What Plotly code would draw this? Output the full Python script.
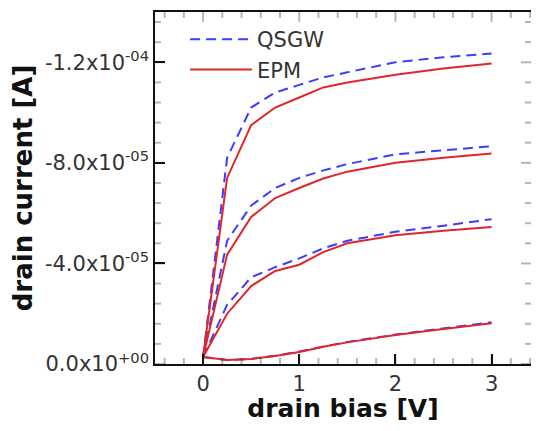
import plotly.graph_objects as go

# ---- data ----
drain_bias = [0, 0.25, 0.5, 0.75, 1.0, 1.25, 1.5, 2.0, 2.5, 3.0]

qsgw_1 = [-0.28e-5, -8.2e-5, -10.2e-5, -10.8e-5, -11.1e-5, -11.4e-5, -11.6e-5, -12.0e-5, -12.2e-5, -12.35e-5]
qsgw_2 = [-0.28e-5, -4.9e-5, -6.3e-5, -7.0e-5, -7.4e-5, -7.7e-5, -7.95e-5, -8.34e-5, -8.5e-5, -8.66e-5]
qsgw_3 = [-0.28e-5, -2.35e-5, -3.45e-5, -3.85e-5, -4.2e-5, -4.6e-5, -4.9e-5, -5.26e-5, -5.5e-5, -5.76e-5]
qsgw_4 = [-0.28e-5, -0.16e-5, -0.2e-5, -0.33e-5, -0.5e-5, -0.7e-5, -0.88e-5, -1.17e-5, -1.42e-5, -1.66e-5]

epm_1 = [-0.28e-5, -7.4e-5, -9.5e-5, -10.2e-5, -10.6e-5, -11.0e-5, -11.2e-5, -11.5e-5, -11.75e-5, -11.95e-5]
epm_2 = [-0.28e-5, -4.35e-5, -5.85e-5, -6.6e-5, -7.0e-5, -7.38e-5, -7.65e-5, -8.0e-5, -8.2e-5, -8.37e-5]
epm_3 = [-0.28e-5, -2.0e-5, -3.1e-5, -3.7e-5, -3.95e-5, -4.45e-5, -4.8e-5, -5.12e-5, -5.3e-5, -5.45e-5]
epm_4 = [-0.28e-5, -0.16e-5, -0.2e-5, -0.32e-5, -0.48e-5, -0.69e-5, -0.86e-5, -1.15e-5, -1.39e-5, -1.62e-5]

x_tick_vals = [0, 1, 2, 3]
y_tick_vals = [0, -4e-5, -8e-5, -1.2e-4]
y_tick_text = ["0.0x10<sup>+00</sup>", "-4.0x10<sup>-05</sup>", "-8.0x10<sup>-05</sup>", "-1.2x10<sup>-04</sup>"]

# ---- figure ----
BLUE = "#3c3cff"
RED = "#e0262c"
FONT = "DejaVu Sans"
AX = "#111111"

W, H = 523, 415
ML, MR, MT, MB = 147, 0, 4, 59
PW, PH = W - ML - MR, H - MT - MB
MAJ, MIN = 10, 6

fig = go.Figure()
for i, ys in enumerate([qsgw_1, qsgw_2, qsgw_3, qsgw_4]):
    fig.add_trace(go.Scatter(
        x=drain_bias, y=ys, mode="lines", name="QSGW", legendgroup="qsgw",
        showlegend=(i == 0),
        line=dict(color=BLUE, width=2, dash="10px,6px"),
    ))
for i, ys in enumerate([epm_1, epm_2, epm_3, epm_4]):
    fig.add_trace(go.Scatter(
        x=drain_bias, y=ys, mode="lines", name="EPM", legendgroup="epm",
        showlegend=(i == 0),
        line=dict(color=RED, width=2),
    ))

# inward tick marks on all four sides (major + minor)
x_minor = [k * 0.2 for k in range(-2, 18) if k % 5 != 0]
y_minor = [-k * 8e-6 for k in range(0, 18) if k % 5 != 0]
tick_line = dict(color=AX, width=2)
for vals, ln in ((x_tick_vals, MAJ), (x_minor, MIN)):
    f = ln / PH
    for v in vals:
        fig.add_shape(type="line", xref="x", yref="y domain", x0=v, x1=v, y0=0, y1=f,
                      line=tick_line, layer="above")
        fig.add_shape(type="line", xref="x", yref="y domain", x0=v, x1=v, y0=1, y1=1 - f,
                      line=tick_line, layer="above")
for vals, ln in ((y_tick_vals, MAJ), (y_minor, MIN)):
    f = ln / PW
    for v in vals:
        fig.add_shape(type="line", xref="x domain", yref="y", x0=0, x1=f, y0=v, y1=v,
                      line=tick_line, layer="above")
        fig.add_shape(type="line", xref="x domain", yref="y", x0=1, x1=1 - f, y0=v, y1=v,
                      line=tick_line, layer="above")

fig.update_xaxes(
    range=[-0.5, 3.41], tickmode="array", tickvals=x_tick_vals,
    ticktext=[str(v) for v in x_tick_vals],
    showline=True, linecolor=AX, linewidth=1.5, mirror=True,
    ticks="inside", ticklen=MAJ, tickwidth=2, tickcolor=AX,
    showgrid=False, zeroline=False, automargin=False,
    tickfont=dict(family=FONT, size=21, color="#333333"),
    title=dict(text="<b>drain bias [V]</b>", font=dict(family=FONT, size=25, color="#111111"), standoff=11),
)
fig.update_yaxes(
    range=[0, -1.4e-4], tickmode="array", tickvals=y_tick_vals, ticktext=y_tick_text,
    showline=True, linecolor=AX, linewidth=1.5, mirror=True,
    ticks="inside", ticklen=MAJ, tickwidth=2, tickcolor=AX,
    showgrid=False, zeroline=False, automargin=False,
    tickfont=dict(family=FONT, size=21, color="#333333"),
    title=dict(text="<b>drain current [A]</b>", font=dict(family=FONT, size=26, color="#111111"), standoff=8),
)

fig.update_layout(
    template="simple_white",
    width=W, height=H,
    margin=dict(l=ML, r=MR, t=MT, b=MB, autoexpand=False),
    paper_bgcolor="white", plot_bgcolor="white",
    showlegend=True,
    legend=dict(
        x=0.08, y=0.98, xanchor="left", yanchor="top",
        bgcolor="rgba(0,0,0,0)", borderwidth=0,
        font=dict(family=FONT, size=21, color="#333333"),
        itemwidth=62, tracegroupgap=0,
    ),
)

fig.write_html("out.html")
